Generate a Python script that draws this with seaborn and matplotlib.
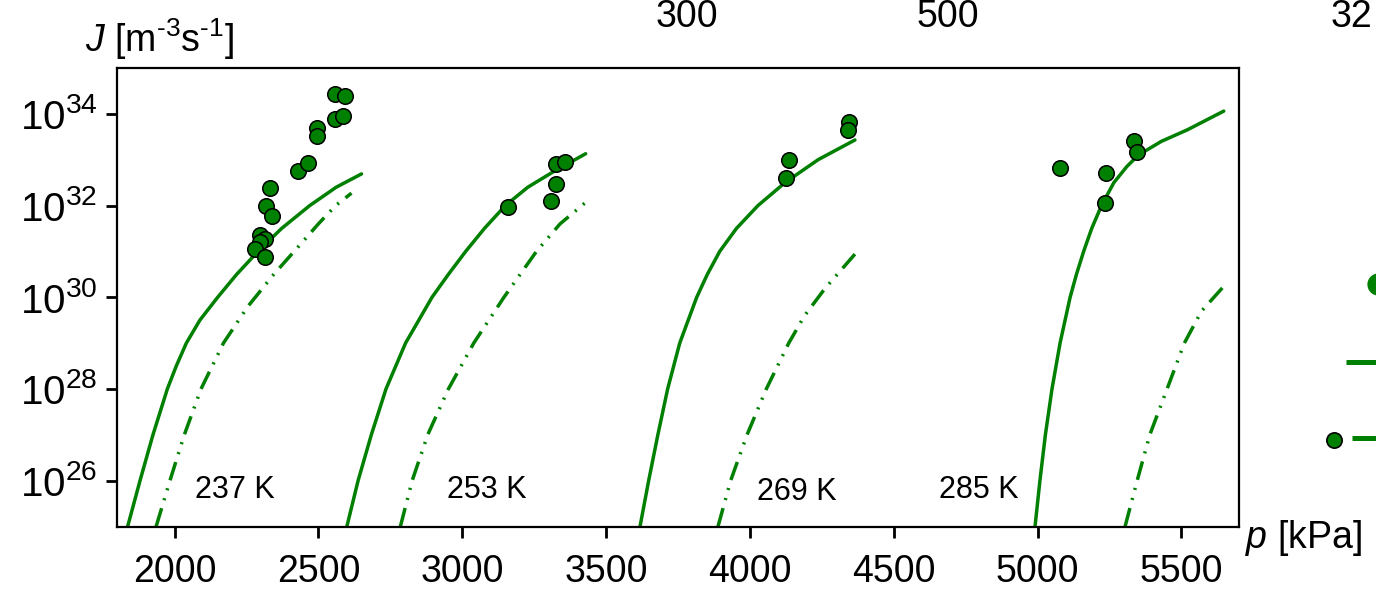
import numpy as np
import pandas as pd
import matplotlib
matplotlib.use("Agg")
import matplotlib.pyplot as plt
from matplotlib.lines import Line2D
from matplotlib.ticker import NullLocator
import seaborn as sns

# ---------------- data ----------------
temperatures = ["237 K", "253 K", "269 K", "285 K"]

# model curves: pressure [kPa] and log10 J
p237_solid = [1837, 1880, 1925, 1975, 2006, 2041, 2088, 2150, 2216, 2290, 2372, 2470, 2562, 2650]
lg237_solid = [25.0, 26.0, 27.0, 28.0, 28.5, 29.0, 29.5, 30.0, 30.5, 31.0, 31.5, 32.0, 32.4, 32.69]
p237_dash = [1936, 1984, 2034, 2092, 2170, 2255, 2345, 2430, 2500, 2560, 2615]
lg237_dash = [25.0, 26.0, 27.0, 28.0, 29.0, 29.8, 30.5, 31.1, 31.6, 32.0, 32.27]

p253_solid = [2599, 2638, 2684, 2735, 2803, 2895, 2952, 3012, 3077, 3150, 3228, 3320, 3429]
lg253_solid = [25.0, 26.0, 27.0, 28.0, 29.0, 30.0, 30.5, 31.0, 31.5, 32.0, 32.4, 32.75, 33.13]
p253_dash = [2785, 2826, 2880, 2952, 3040, 3145, 3258, 3340, 3429]
lg253_dash = [25.0, 26.0, 27.0, 28.0, 29.0, 30.0, 31.0, 31.6, 32.07]

p269_solid = [3618, 3648, 3680, 3714, 3756, 3815, 3852, 3895, 3953, 4028, 4122, 4237, 4365]
lg269_solid = [25.0, 26.0, 27.0, 28.0, 29.0, 30.0, 30.5, 31.0, 31.5, 32.0, 32.5, 33.0, 33.43]
p269_dash = [3889, 3933, 3990, 4057, 4135, 4190, 4262, 4365]
lg269_dash = [25.0, 26.0, 27.0, 28.0, 29.0, 29.6, 30.2, 30.94]

p285_solid = [4991, 5008, 5027, 5050, 5078, 5113, 5135, 5160, 5188, 5222, 5265, 5310, 5350, 5430, 5520, 5647]
lg285_solid = [25.0, 26.0, 27.0, 28.0, 29.0, 30.0, 30.5, 31.0, 31.5, 32.0, 32.5, 32.85, 33.1, 33.4, 33.65, 34.06]
p285_dash = [5304, 5346, 5390, 5450, 5510, 5570, 5643]
lg285_dash = [25.0, 26.0, 27.0, 28.0, 29.0, 29.7, 30.21]

# experimental points
p237_exp = [2557, 2592, 2557, 2586, 2495, 2495, 2429, 2464, 2331, 2319, 2339, 2296, 2313, 2298, 2278, 2316]
lg237_exp = [34.44, 34.40, 33.89, 33.96, 33.70, 33.51, 32.76, 32.92, 32.38, 31.98, 31.78, 31.35, 31.27, 31.20, 31.06, 30.87]
p253_exp = [3160, 3326, 3357, 3326, 3308]
lg253_exp = [31.96, 32.91, 32.95, 32.47, 32.09]
p269_exp = [4137, 4127, 4346, 4342]
lg269_exp = [33.00, 32.59, 33.83, 33.64]
p285_exp = [5077, 5237, 5234, 5336, 5345]
lg285_exp = [32.82, 32.70, 32.06, 33.40, 33.16]

# temperature label positions (data coords)
label_p = [2070, 2947, 4026, 4656]
label_lg = [25.80, 25.80, 25.76, 25.80]

x_ticks = [2000, 2500, 3000, 3500, 4000, 4500, 5000, 5500]
y_exponents = [26, 28, 30, 32, 34]
top_texts = ["300", "500", "32"]

# ---------------- tables ----------------
curve_sets = [
    ("237 K", "solid", p237_solid, lg237_solid), ("237 K", "dash", p237_dash, lg237_dash),
    ("253 K", "solid", p253_solid, lg253_solid), ("253 K", "dash", p253_dash, lg253_dash),
    ("269 K", "solid", p269_solid, lg269_solid), ("269 K", "dash", p269_dash, lg269_dash),
    ("285 K", "solid", p285_solid, lg285_solid), ("285 K", "dash", p285_dash, lg285_dash),
]
curves = pd.concat([
    pd.DataFrame({"p": p, "J": 10.0 ** np.array(lg), "T": t, "model": m, "curve": f"{t}-{m}"})
    for t, m, p, lg in curve_sets
], ignore_index=True)

exp_sets = [("237 K", p237_exp, lg237_exp), ("253 K", p253_exp, lg253_exp),
            ("269 K", p269_exp, lg269_exp), ("285 K", p285_exp, lg285_exp)]
points = pd.concat([
    pd.DataFrame({"p": p, "J": 10.0 ** np.array(lg), "T": t}) for t, p, lg in exp_sets
], ignore_index=True)

# ---------------- style ----------------
sns.set_style("ticks")
plt.rcParams["font.family"] = ["Liberation Sans", "DejaVu Sans"]
plt.rcParams["mathtext.fontset"] = "custom"
plt.rcParams["mathtext.rm"] = "Liberation Sans"
plt.rcParams["mathtext.it"] = "Liberation Sans:italic"
plt.rcParams["mathtext.bf"] = "Liberation Sans:bold"
for key in ["text.color", "axes.labelcolor", "xtick.color", "ytick.color", "axes.edgecolor"]:
    plt.rcParams[key] = "black"

W, H = 1376, 596
fig = plt.figure(figsize=(W / 100, H / 100), dpi=100)
ax = fig.add_axes([117 / W, (H - 526.5) / H, (1239 - 117) / W, (526.5 - 68) / H])
ax.set_yscale("log")

green = "#008000"
sns.lineplot(data=curves, x="p", y="J", units="curve", style="model", estimator=None,
             sort=False, color=green, linewidth=2.5,
             dashes={"solid": "", "dash": (5.5, 2.4, 0.6, 2.4, 0.6, 2.4)},
             legend=False, ax=ax)
sns.scatterplot(data=points, x="p", y="J", color=green, s=125, edgecolor="black",
                linewidth=1.1, zorder=3, legend=False, ax=ax)

for t, xp, lg in zip(temperatures, label_p, label_lg):
    ax.text(xp, 10 ** lg, t, fontsize=22, ha="left", va="center", color="black")

ax.set_xlim(1800, 5700)
ax.set_ylim(1e25, 1e35)
ax.set_xticks(x_ticks)
ax.set_xticklabels([str(v) for v in x_ticks])
ax.set_yticks([10.0 ** e for e in y_exponents])
ax.set_yticklabels([r"$10^{%d}$" % e for e in y_exponents])
ax.yaxis.set_minor_locator(NullLocator())
ax.xaxis.set_minor_locator(NullLocator())
ax.set_xlabel("")
ax.set_ylabel("")
ax.tick_params(axis="both", direction="out", length=8, width=2, color="black", labelcolor="black")
ax.tick_params(axis="x", pad=12, labelsize=27)
ax.tick_params(axis="y", pad=6, labelsize=29)
for s in ax.spines.values():
    s.set_visible(True)
    s.set_linewidth(1.6)
    s.set_color("black")

# axis titles
fig.text(85 / W, 1 - 52 / H, r"$J$ [m$^{\text{-}3}$s$^{\text{-}1}$]", fontsize=27, ha="left", va="baseline")
fig.text(1245 / W, 1 - 538 / H, r"$p$ [kPa]", fontsize=27, ha="left", va="center")

# cropped text at top of the figure
for txt, xpx in zip(top_texts, [656, 917, 1331]):
    fig.text(xpx / W, 1 - 27 / H, txt, fontsize=27, ha="left", va="baseline")

# cropped legend glyphs at right edge
fig.add_artist(Line2D([1378 / W], [1 - 284 / H], marker="o", markersize=16, color=green,
                      markeredgewidth=0, linestyle="none", transform=fig.transFigure))
fig.add_artist(Line2D([1346 / W, 1380 / W], [1 - 362 / H] * 2, color=green, lw=3.6,
                      solid_capstyle="butt", transform=fig.transFigure))
fig.add_artist(Line2D([1334 / W], [1 - 440 / H], marker="o", markersize=11, color=green,
                      markeredgecolor="black", markeredgewidth=1.2, linestyle="none",
                      transform=fig.transFigure))
fig.add_artist(Line2D([1352 / W, 1380 / W], [1 - 438 / H] * 2, color=green, lw=3.6,
                      solid_capstyle="butt", transform=fig.transFigure))

fig.savefig("out.png", dpi=100)
